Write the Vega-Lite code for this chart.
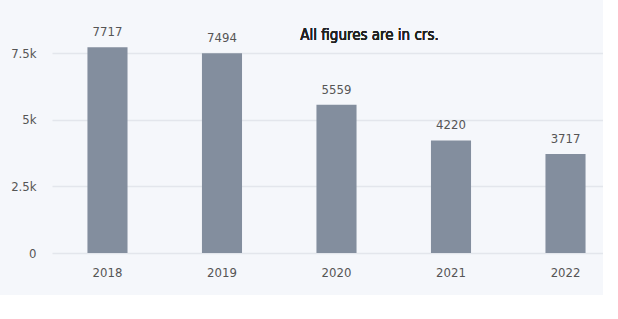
{
  "$schema": "https://vega.github.io/schema/vega-lite/v6.json",
  "autosize": {"type": "none"},
  "width": 551,
  "height": 240,
  "padding": {"left": 52, "top": 13, "right": 0, "bottom": 42},
  "background": "#f5f7fb",
  "config": {
    "view": {"stroke": null},
    "font": "DejaVu Sans Condensed, Roboto, sans-serif",
    "axis": {"labelFont": "DejaVu Sans Condensed, Roboto, sans-serif", "labelFontSize": 13, "labelColor": "#555555"}
  },
  "data": {
    "values": [
      {"year": "2018", "value": 7717},
      {"year": "2019", "value": 7494},
      {"year": "2020", "value": 5559},
      {"year": "2021", "value": 4220},
      {"year": "2022", "value": 3717}
    ]
  },
  "encoding": {
    "x": {
      "field": "year", "type": "nominal", "title": null,
      "scale": {"paddingInner": 0.65, "paddingOuter": 0.231, "align": 0.67},
      "axis": {"labelAngle": 0, "ticks": false, "domain": false, "labelPadding": 13}
    }
  },
  "layer": [
    {
      "mark": {"type": "bar", "color": "#838e9e"},
      "encoding": {
        "y": {
          "field": "value", "type": "quantitative", "title": null,
          "scale": {"domain": [0, 9000], "nice": false},
          "axis": {
            "values": [0, 2500, 5000, 7500],
            "labelExpr": "datum.value == 0 ? '0' : (datum.value / 1000) + 'k'",
            "domain": false, "ticks": false, "labelPadding": 16,
            "gridColor": "#e3e6ec", "gridWidth": 1.5
          }
        }
      }
    },
    {
      "mark": {"type": "text", "baseline": "alphabetic", "dy": -11, "fontSize": 13, "color": "#555555", "font": "DejaVu Sans Condensed, Roboto, sans-serif"},
      "encoding": {
        "y": {"field": "value", "type": "quantitative"},
        "text": {"field": "value", "type": "quantitative", "format": "d"}
      }
    },
    {
      "mark": {"type": "text", "baseline": "alphabetic", "fontSize": 15, "fontWeight": "normal", "color": "#222222", "font": "DejaVu Sans Condensed, Roboto, sans-serif", "dx": 33},
      "encoding": {
        "x": {"datum": "2020"},
        "y": {"datum": 8000},
        "text": {"value": "All figures are in crs."}
      }
    }
  ]
}
